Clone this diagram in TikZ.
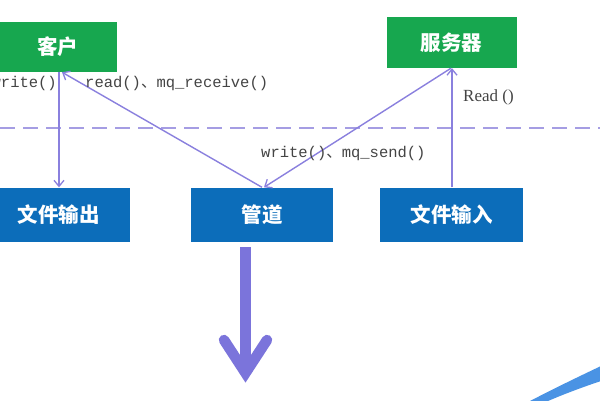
\documentclass[tikz,border=0pt]{standalone}
\usepackage{fontspec}
\newfontfamily\cjk{Noto Sans CJK SC}
\newfontfamily\monof{Liberation Mono}
\newfontfamily\serf{Liberation Serif}
\usetikzlibrary{arrows.meta}
\definecolor{kgreen}{HTML}{17A74F}
\definecolor{kblue}{HTML}{0C6DBA}
\definecolor{lnc}{HTML}{8A80DE}
\definecolor{dashc}{HTML}{A59DE3}
\definecolor{bigc}{HTML}{7B74DB}
\definecolor{swc}{HTML}{4A93E4}
\definecolor{txtc}{HTML}{444444}
\begin{document}
\begin{tikzpicture}[x=1pt,y=-1pt,
  boxfont/.style={font=\cjk\bfseries\fontsize{20.5}{20.5}\selectfont},
  gbox/.style={boxfont, fill=kgreen, text=white, inner sep=0pt, minimum height=50pt},
  bbox/.style={boxfont, fill=kblue, text=white, inner sep=0pt, minimum height=54pt},
  conn/.style={draw=lnc, line width=1.4pt, -{Straight Barb[length=6pt,width=10pt,line width=1.3pt]}},
  lbl/.style={text=txtc, inner sep=0pt, font=\monof\fontsize{15.5}{15.5}\selectfont},
  bigarrow/.style={draw=bigc, line width=10.5pt}
]
\useasboundingbox (0,0) rectangle (600,400);
\clip (0,0) rectangle (600,400);
\fill[white] (0,0) rectangle (600,400);

% top boxes
\node[gbox, minimum width=119pt] (kh) at (57.5,47) {客户};
\node[gbox, minimum width=130pt, minimum height=51pt] (fw) at (451.5,42.5) {服务器};

% bottom boxes
\node[bbox, minimum width=143pt] (sc) at (58.5,214.5) {文件输出};
\node[bbox, minimum width=142pt] (gd) at (262,214.5) {管道};
\node[bbox, minimum width=143pt] (sr) at (451.5,214.5) {文件输入};

% dashed separator
\coordinate (dl) at (0,128);
\coordinate (dr) at (600,128);
\draw[dashc, line width=1.4pt, dash pattern=on 15pt off 8pt] (dl) -- (dr);

% connectors
\draw[conn] ([xshift=1.5pt]kh.south) -- ([xshift=0.5pt]sc.north);
\draw[conn] ([xshift=0pt]gd.north) -- ([xshift=4.5pt]kh.south);
\draw[conn] ([xshift=-0.5pt]fw.south) -- ([xshift=2pt]gd.north);
\draw[conn] ([xshift=0.5pt]sr.north) -- ([xshift=0.5pt]fw.south);

% labels
\node[lbl, anchor=east] (l1) at (57,83) {write()};
\node[lbl, anchor=west] (l2) at (85,83) {read(){\cjk 、}mq\_receive()};
\node[lbl, anchor=west, font=\serf\fontsize{17}{17}\selectfont] (l3) at (463,97) {Read ()};
\node[lbl, anchor=west] (l4) at (261,153) {write(){\cjk 、}mq\_send()};

% big down arrow
\coordinate (a1) at (245.5,247);
\coordinate (a2) at (245.5,373);
\coordinate (al) at (224,340);
\coordinate (ar) at (267,340);
\draw[bigarrow] (a1) -- (a2);
\draw[bigarrow, line cap=round, line join=miter] (al) -- (a2) -- (ar);

% swoosh at bottom right
\fill[swc] (530,401) .. controls (555,388) and (580,376) .. (601,366) -- (601,381) .. controls (580,388) and (562,395) .. (548,401) -- cycle;
\end{tikzpicture}
\end{document}
